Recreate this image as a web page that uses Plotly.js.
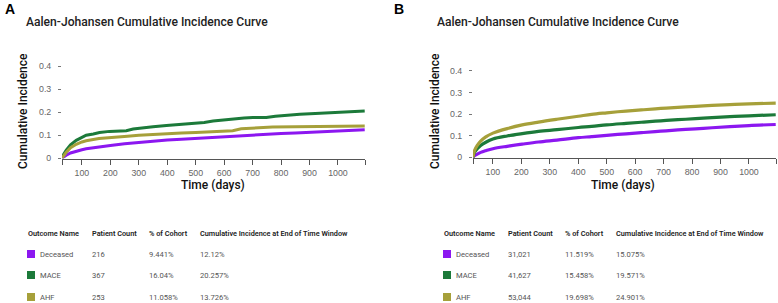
<!DOCTYPE html>
<html>
<head>
<meta charset="utf-8">
<script src="https://cdn.plot.ly/plotly-3.0.1.min.js"></script>
<style>html,body{margin:0;padding:0;background:#fff;}#chart{width:778px;height:303px;}</style>
</head>
<body>
<div id="chart"></div>
<script>
// ---------- data ----------
const outcomeNames = ["Deceased", "MACE", "AHF"];
const seriesColors = ["#8c17f0", "#1c7a3a", "#a6a03a"];

// Panel A
const daysA_deceased = [30, 35, 45, 60, 80, 100, 115, 150, 200, 250, 300, 350, 400, 450, 500, 550, 600, 630, 660, 700, 750, 800, 850, 900, 950, 1000, 1050, 1094];
const valsA_deceased = [0, 0.005, 0.012, 0.022, 0.030, 0.036, 0.040, 0.047, 0.055, 0.062, 0.068, 0.073, 0.078, 0.082, 0.086, 0.089, 0.093, 0.095, 0.099, 0.102, 0.105, 0.107, 0.109, 0.112, 0.115, 0.118, 0.121, 0.123];
const daysA_mace = [30, 35, 45, 60, 80, 100, 115, 140, 162, 197, 230, 256, 280, 303, 350, 397, 450, 490, 530, 561, 600, 631, 670, 701, 748, 780, 820, 866, 920, 983, 1040, 1094];
const valsA_mace = [0, 0.015, 0.034, 0.058, 0.077, 0.090, 0.099, 0.105, 0.111, 0.116, 0.118, 0.119, 0.126, 0.130, 0.136, 0.142, 0.146, 0.150, 0.155, 0.161, 0.166, 0.171, 0.174, 0.176, 0.176, 0.182, 0.187, 0.190, 0.194, 0.198, 0.202, 0.205];
const daysA_ahf = [30, 35, 45, 60, 80, 100, 115, 160, 200, 260, 300, 350, 400, 450, 500, 550, 600, 630, 660, 700, 770, 850, 900, 1000, 1094];
const valsA_ahf = [0, 0.010, 0.025, 0.045, 0.060, 0.070, 0.075, 0.085, 0.090, 0.095, 0.099, 0.103, 0.106, 0.109, 0.111, 0.113, 0.116, 0.119, 0.127, 0.131, 0.135, 0.136, 0.137, 0.138, 0.139];

// Panel B
const daysB = [30, 35, 45, 57, 75, 100, 150, 203, 260, 325, 400, 447, 500, 568, 630, 690, 750, 812, 870, 933, 1000, 1094];
const valsB_deceased = [0, 0.007, 0.015, 0.023, 0.031, 0.040, 0.051, 0.061, 0.071, 0.080, 0.091, 0.096, 0.102, 0.109, 0.115, 0.121, 0.127, 0.132, 0.137, 0.142, 0.147, 0.152];
const valsB_mace = [0, 0.022, 0.040, 0.055, 0.070, 0.085, 0.099, 0.110, 0.120, 0.128, 0.138, 0.143, 0.150, 0.157, 0.163, 0.169, 0.174, 0.179, 0.184, 0.188, 0.192, 0.197];
const valsB_ahf = [0, 0.030, 0.055, 0.075, 0.095, 0.112, 0.133, 0.150, 0.163, 0.176, 0.190, 0.199, 0.206, 0.214, 0.220, 0.226, 0.231, 0.236, 0.240, 0.244, 0.247, 0.251];

// Tables
const tableHeaders = ["Outcome Name", "Patient Count", "% of Cohort", "Cumulative Incidence at End of Time Window"];
const countsA = ["216", "367", "253"];
const pctA = ["9.441%", "16.04%", "11.058%"];
const ciA = ["12.12%", "20.257%", "13.726%"];
const countsB = ["31,021", "41,627", "53,044"];
const pctB = ["11.519%", "15.458%", "19.698%"];
const ciB = ["15.075%", "19.571%", "24.901%"];

const xTicks = [100, 200, 300, 400, 500, 600, 700, 800, 900, 1000];
const yTicks = [0, 0.1, 0.2, 0.3, 0.4];
const yTickText = ["0", "0.1", "0.2", "0.3", "0.4"];

// ---------- helpers ----------
const W = 778, H = 303;
const px = x => x / W;
const py = y => 1 - y / H;

const traces = [];
const setsA = [[daysA_deceased, valsA_deceased], [daysA_mace, valsA_mace], [daysA_ahf, valsA_ahf]];
const setsB = [[daysB, valsB_deceased], [daysB, valsB_mace], [daysB, valsB_ahf]];
setsA.forEach((s, i) => traces.push({x: s[0], y: s[1], type: 'scatter', mode: 'lines', xaxis: 'x', yaxis: 'y',
  line: {color: seriesColors[i], width: 3, shape: 'linear'}, showlegend: false, hoverinfo: 'skip'}));
setsB.forEach((s, i) => traces.push({x: s[0], y: s[1], type: 'scatter', mode: 'lines', xaxis: 'x2', yaxis: 'y2',
  line: {color: seriesColors[i], width: 3.2, shape: 'spline', smoothing: 1}, showlegend: false, hoverinfo: 'skip'}));

const tickFont = {family: 'Liberation Sans, Arial, sans-serif', size: 8.8, color: '#666'};
function xax(domain) {
  return {domain: domain, range: [30, 1095], showgrid: false, zeroline: false, showline: true, linecolor: '#555', linewidth: 1,
    ticks: 'outside', ticklen: 5, tickcolor: '#555', tickwidth: 1,
    tickvals: [30].concat(xTicks, [1095]), ticktext: [''].concat(xTicks.map(String), ['']),
    ticklabelstandoff: 1, tickfont: tickFont, fixedrange: true};
}
function yax(domain, anchor) {
  return {domain: domain, range: [-0.002, 0.42], showgrid: false, zeroline: false, showline: false,
    ticks: 'outside', ticklen: 3, tickcolor: '#777', tickwidth: 1, tickvals: yTicks, ticktext: yTickText,
    ticklabelstandoff: 5, tickfont: tickFont, anchor: anchor, fixedrange: true};
}

const annotations = [];
const shapes = [];
function txt(x, y, text, opts) {
  annotations.push(Object.assign({xref: 'paper', yref: 'paper', x: px(x), y: py(y), text: text, showarrow: false,
    xanchor: 'left', yanchor: 'middle'}, opts || {}));
}
const titleFont = {family: 'Roboto, sans-serif', size: 12.1, color: '#222', weight: 500};
const axTitleFont = {family: 'Roboto, sans-serif', size: 12, color: '#111', weight: 500};

// Panel labels and titles
txt(3, 9, 'A', {font: {family: 'Liberation Sans, Arial', size: 14, color: '#000', weight: 'bold'}});
txt(392, 9, 'B', {font: {family: 'Liberation Sans, Arial', size: 14, color: '#000', weight: 'bold'}});
txt(24, 22, 'Aalen-Johansen Cumulative Incidence Curve', {font: titleFont});
txt(435, 22, 'Aalen-Johansen Cumulative Incidence Curve', {font: titleFont});
// Axis titles
txt(23, 111, 'Cumulative Incidence', {xanchor: 'center', textangle: -90, font: axTitleFont});
txt(435, 111, 'Cumulative Incidence', {xanchor: 'center', textangle: -90, font: axTitleFont});
txt(213, 185, 'Time (days)', {xanchor: 'center', font: axTitleFont});
txt(623, 185, 'Time (days)', {xanchor: 'center', font: axTitleFont});

// Tables
const headFont = {family: 'Roboto, sans-serif', size: 7.3, color: '#222', weight: 600};
const bodyFont = {family: 'Roboto, sans-serif', size: 7.6, color: '#555'};
function table(colX, markerX, nameX, counts, pcts, cis) {
  const headY = 233, rowY = [254, 275, 297];
  tableHeaders.forEach((h, i) => txt(colX[i], headY, h, {font: headFont}));
  outcomeNames.forEach((n, r) => {
    shapes.push({type: 'rect', xref: 'paper', yref: 'paper', x0: px(markerX), x1: px(markerX + 8),
      y0: py(rowY[r] + 4), y1: py(rowY[r] - 4), fillcolor: seriesColors[r], line: {width: 0}});
    txt(nameX, rowY[r], n, {font: bodyFont});
    txt(colX[1], rowY[r], counts[r], {font: bodyFont});
    txt(colX[2], rowY[r], pcts[r], {font: bodyFont});
    txt(colX[3], rowY[r], cis[r], {font: bodyFont});
  });
}
table([26, 90, 147, 198], 27, 38, countsA, pctA, ciA);
table([442, 506, 563, 614], 443, 454, countsB, pctB, ciB);

const layout = {
  width: W, height: H, margin: {l: 0, r: 0, t: 0, b: 0},
  paper_bgcolor: '#fff', plot_bgcolor: '#fff', showlegend: false,
  xaxis: xax([px(62), px(365)]), yaxis: yax([py(158.5), py(61.5)], 'x'),
  xaxis2: xax([px(473), px(776)]), yaxis2: yax([py(157.8), py(66.5)], 'x2'),
  annotations: annotations, shapes: shapes
};
layout.xaxis.anchor = 'y';
layout.xaxis2.anchor = 'y2';

Plotly.newPlot('chart', traces, layout, {staticPlot: true, displayModeBar: false});
</script>
</body>
</html>
